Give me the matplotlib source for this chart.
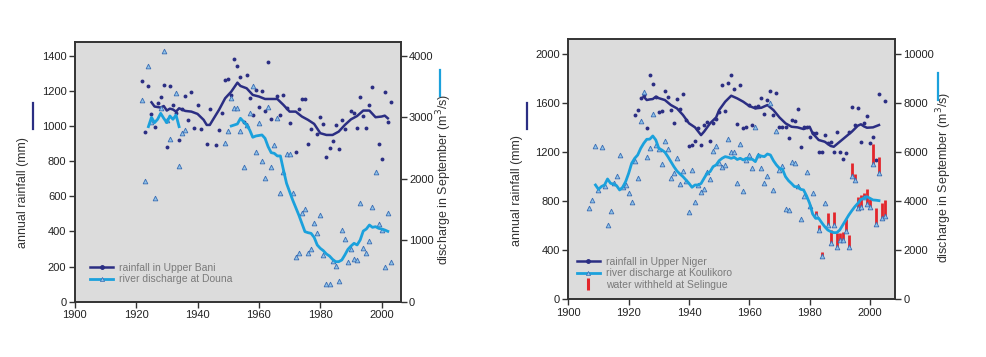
import matplotlib
matplotlib.use('Agg')
from matplotlib import pyplot as plt
from matplotlib.lines import Line2D
import numpy as np

plt.rcParams['font.family'] = ['Liberation Sans', 'DejaVu Sans']

NAVY = '#2b2e83'
CYAN = '#1ba1dc'
TRI_FACE = '#8ec3ea'
TRI_EDGE = '#3b6db3'
RED = '#e3262b'
BG = '#dcdcdc'

# ---------------- Upper Bani / Douna ----------------
bani_rain_years = [1922, 1923, 1924, 1925, 1926, 1927, 1928, 1929, 1930, 1931, 1932, 1933, 1934, 1935,
                   1936, 1937, 1938, 1939, 1940, 1941, 1943, 1944, 1946, 1947, 1948, 1949, 1950, 1951,
                   1952, 1953, 1954, 1955, 1956, 1957, 1958, 1959, 1960, 1961, 1962, 1963, 1964, 1966,
                   1967, 1968, 1969, 1970, 1972, 1973, 1974, 1975, 1976, 1977, 1979, 1980, 1981, 1982,
                   1983, 1984, 1985, 1986, 1987, 1988, 1990, 1991, 1992, 1993, 1994, 1995, 1996, 1997,
                   1999, 2000, 2001, 2002, 2003]
bani_rain = [1260, 969, 1229, 1068, 998, 1131, 1169, 1235, 880, 1231, 1121, 1074, 922, 1100,
             1174, 1036, 1197, 992, 1121, 986, 900, 1100, 893, 979, 1074, 1264, 1269, 1178,
             1383, 1345, 1283, 1026, 1292, 1159, 1064, 1207, 1108, 1201, 1089, 1368, 1041, 1172,
             1064, 1178, 1102, 1020, 855, 1098, 1155, 1153, 899, 982, 956, 1051, 1013, 827,
             874, 918, 1007, 870, 1036, 982, 1089, 1077, 992, 1169, 1060, 988, 1121, 1226,
             897, 815, 1193, 1024, 1136]

bani_ma_years = [1925, 1926, 1928, 1929, 1930, 1931, 1932, 1933, 1934, 1936, 1938, 1940, 1942, 1943,
                 1944, 1945, 1947, 1949, 1951, 1953, 1954, 1956, 1958, 1960, 1962, 1966, 1968, 1970,
                 1972, 1974, 1976, 1978, 1980, 1982, 1984, 1986, 1988, 1990, 1992, 1994, 1996, 1998,
                 2000, 2001, 2002]
bani_ma = [1136, 1112, 1106, 1115, 1089, 1100, 1095, 1083, 1102, 1087, 1083, 1070, 1036, 1007,
           1007, 1036, 1093, 1159, 1197, 1248, 1229, 1216, 1178, 1169, 1155, 1155, 1121, 1083,
           1083, 1055, 1036, 1013, 960, 950, 950, 969, 1007, 1039, 1058, 1089, 1089, 1051,
           1055, 1060, 1045]

douna_q_years = [1922, 1923, 1924, 1925, 1926, 1928, 1929, 1930, 1931, 1933, 1934, 1935, 1936,
                 1949, 1950, 1951, 1952, 1953, 1954, 1955, 1956, 1957, 1958, 1959, 1960, 1961, 1962,
                 1963, 1964, 1965, 1966, 1967, 1968, 1969, 1970, 1971, 1972, 1973, 1974, 1975, 1976,
                 1977, 1978, 1979, 1980, 1981, 1982, 1983, 1984, 1985, 1986, 1987, 1988, 1989, 1990,
                 1991, 1992, 1993, 1994, 1995, 1996, 1997, 1998, 1999, 2000, 2001, 2002, 2003]
douna_q = [3279, 1970, 3842, 2930, 1693, 3149, 4081, 2958, 2644, 3403, 2209, 2741, 2795,
           2578, 2784, 3316, 3153, 3153, 2784, 2187, 2876, 3066, 3511, 2442, 2914, 2290, 2019,
           3164, 2187, 2551, 2985, 1775, 2117, 2404, 2404, 1775, 733, 798, 1438, 1503, 798,
           857, 1286, 1123, 1411, 755, 288, 288, 668, 581, 342, 1167, 1015, 651, 857,
           689, 678, 1612, 879, 798, 993, 1536, 2117, 1264, 1167, 570, 1449, 651]

douna_ma1_years = [1924, 1925, 1926, 1927, 1928, 1929, 1930, 1931, 1932, 1933, 1934]
douna_ma1 = [2849, 3001, 2914, 2969, 3066, 2985, 2914, 3023, 2969, 3039, 2849]
douna_ma2_years = [1951, 1953, 1954, 1955, 1956, 1957, 1958, 1959, 1961, 1962, 1963, 1964, 1965,
                   1966, 1967, 1968, 1969, 1971, 1973, 1975, 1976, 1977, 1978, 1979, 1980, 1981,
                   1982, 1983, 1984, 1985, 1986, 1987, 1988, 1989, 1990, 1991, 1992, 1993, 1994,
                   1995, 1996, 1997, 1998, 1999, 2000, 2001, 2002]
douna_ma2 = [2860, 2893, 2985, 2930, 2876, 2795, 2676, 2697, 2714, 2659, 2524, 2426, 2415,
             2372, 2372, 2144, 1927, 1655, 1411, 1140, 1123, 1112, 1047, 923, 868, 830,
             776, 743, 689, 651, 651, 678, 760, 852, 906, 950, 923, 1004, 1150,
             1183, 1248, 1210, 1221, 1194, 1183, 1167, 1145]

# ---------------- Upper Niger / Koulikoro ----------------
niger_rain_years = list(range(1922, 2004)) + [2005]
niger_rain = [1500, 1543, 1644, 1666, 1394, 1829, 1755, 1652, 1530, 1538, 1698, 1647, 1543, 1440,
              1633, 1551, 1671, 1462, 1250, 1258, 1291, 1394, 1258, 1421, 1443, 1291, 1435, 1467,
              1530, 1747, 1538, 1761, 1829, 1714, 1426, 1747, 1399, 1402, 1584, 1421, 1570, 1576,
              1638, 1511, 1625, 1701, 1503, 1679, 1407, 1407, 1407, 1312, 1462, 1456, 1551, 1244,
              1407, 1407, 1326, 1359, 1353, 1201, 1201, 1337, 1272, 1282, 1201, 1364, 1201, 1141,
              1196, 1367, 1570, 1418, 1557, 1285, 1435, 1494, 1272, 1326, 1136, 1674, 1620]

niger_ma_years = [1925, 1926, 1927, 1928, 1929, 1930, 1932, 1934, 1936, 1938, 1940, 1942, 1944, 1945,
                  1947, 1949, 1950, 1952, 1954, 1956, 1958, 1960, 1962, 1964, 1966, 1968, 1970, 1972,
                  1974, 1976, 1978, 1980, 1981, 1983, 1985, 1987, 1988, 1990, 1992, 1994, 1996, 1997,
                  1998, 1999, 2001, 2003]
niger_ma = [1652, 1625, 1630, 1633, 1652, 1640, 1625, 1584, 1557, 1503, 1435, 1402, 1339, 1367,
            1435, 1483, 1543, 1611, 1660, 1638, 1611, 1576, 1557, 1562, 1584, 1543, 1483, 1435,
            1407, 1402, 1388, 1407, 1353, 1299, 1285, 1250, 1244, 1285, 1326, 1367, 1416, 1427,
            1410, 1399, 1402, 1421]

koul_q_years = list(range(1907, 2006))
koul_q = [3710, 4048, 6251, 4458, 6197, 4634, 3044, 3601, 4754, 5027, 5884, 4593, 4648, 4322,
          3955, 5653, 4960, 7271, 8439, 5817, 6156, 7556, 6292, 6129, 5517, 6469, 6116, 4960,
          5164, 5748, 4702, 5246, 4811, 3547, 5273, 3955, 4661, 4376, 4512, 5205, 4920, 6061,
          6251, 5545, 5382, 5477, 6537, 6020, 6020, 4729, 6333, 4428, 5681, 5871, 5365, 7012,
          5898, 5365, 4754, 5040, 7991, 4456, 6880, 5272, 5435, 3680, 3640, 5610, 5545, 4600,
          3262, 4211, 5202, 3816, 4322, 3437, 2825, 1765, 3914, 3029, 2308, 3029, 2120, 2418,
          2418, 2797, 2145, 5027, 4864, 3710, 3775, 4183, 3886, 3775, 5516, 3070, 5137, 3302,
          3396]

koul_ma_years = list(range(1909, 2004))
koul_ma = [4661, 4485, 4600, 4661, 4906, 4729, 4700, 4634, 4458, 4566, 4797, 5137, 5545, 5748,
           5884, 6156, 6360, 6523, 6530, 6659, 6496, 6156, 6088, 6000, 5817, 5613, 5409, 5232,
           5110, 5001, 4865, 4729, 4566, 4661, 4661, 4720, 4933, 5137, 5205, 5409, 5477, 5653,
           5750, 5817, 5790, 5748, 5790, 5700, 5748, 5681, 5750, 5710, 5710, 5613, 5884, 5840,
           5817, 5925, 5884, 5653, 5477, 5341, 5300, 5001, 4838, 4720, 4593, 4593, 4485, 4458,
           4213, 3914, 3479, 3302, 3302, 3126, 2963, 2827, 2759, 2718, 2718, 2827, 3031, 3234,
           3438, 3615, 3778, 3914, 4077, 4118, 4186, 4118, 4050, 4040, 4023]

# water withheld at Selingue (added on top of the observed discharge)
sel_years = [1982, 1983, 1984, 1986, 1987, 1988, 1989, 1990, 1991, 1992, 1993, 1994, 1995, 1996,
             1997, 1998, 1999, 2000, 2001, 2002, 2003, 2004, 2005]
sel_withheld = [150, 204, 150, 503, 516, 544, 571, 272, 340, 462, 476, 516, 245, 476,
                476, 136, 598, 299, 802, 639, 652, 639, 652]

x_ticks = [1900, 1920, 1940, 1960, 1980, 2000]


def style_pair(ax, ax2, xmax, ymax1, ymax2, yt1, yt2):
    ax.set_facecolor(BG)
    ax.set_xlim(1900, xmax)
    ax.set_ylim(0, ymax1)
    ax2.set_ylim(0, ymax2)
    ax.set_xticks(x_ticks)
    ax.set_yticks(yt1)
    ax2.set_yticks(yt2)
    for a in (ax, ax2):
        for s in a.spines.values():
            s.set_color('#333333')
            s.set_linewidth(1.2)
        a.tick_params(direction='out', length=4, width=1, color='#333333',
                      labelsize=8, labelcolor='#222222', pad=2)


def add_label_bar(x, y0, y1, color):
    fig.add_artist(Line2D([x / 986.0] * 2, [1 - y0 / 357.0, 1 - y1 / 357.0],
                          color=color, lw=1.6, transform=fig.transFigure))


fig = plt.figure(figsize=(9.86, 3.57), dpi=100)

# ---- left panel
ax = fig.add_axes([0.0758, 0.155, 0.3306, 0.728])
ax2 = ax.twinx()
style_pair(ax, ax2, 2006.2, 1481, 4231, range(0, 1401, 200), range(0, 4001, 1000))

ax2.plot(douna_q_years, douna_q, '^', ms=3.4, mfc=TRI_FACE, mec=TRI_EDGE, mew=0.6, zorder=2)
ax2.plot(douna_ma1_years, douna_ma1, color=CYAN, lw=2, zorder=3)
ax2.plot(douna_ma2_years, douna_ma2, color=CYAN, lw=2, zorder=3)
ax.plot(bani_rain_years, bani_rain, 'o', ms=2.8, mew=0, color=NAVY, zorder=2)
ax.plot(bani_ma_years, bani_ma, color=NAVY, lw=1.8, zorder=3)

ax.set_ylabel('annual rainfall (mm)', fontsize=9, color='#333333')
ax.yaxis.set_label_coords(-0.140, 0.42)
ax2.set_ylabel('discharge in September (m$^3$/s)', fontsize=9, color='#333333')
ax2.yaxis.set_label_coords(1.102, 0.47)
add_label_bar(33, 103, 129, NAVY)
add_label_bar(440, 70, 96, CYAN)

h = [Line2D([], [], color=NAVY, lw=1.8, marker='o', ms=2.5),
     Line2D([], [], color=CYAN, lw=2, marker='^', ms=3, mfc=TRI_FACE, mec=TRI_EDGE, mew=0.5)]
ax2.legend(h, ['rainfall in Upper Bani', 'river discharge at Douna'], loc='upper left',
           bbox_to_anchor=(0.047, 0.15), frameon=False, fontsize=7.5, labelcolor='#7a7a7a',
           handlelength=2.2, handletextpad=0.6, labelspacing=0.15, borderpad=0, borderaxespad=0,
           numpoints=1)

# ---- right panel
bx = fig.add_axes([0.5764, 0.1616, 0.3313, 0.7283])
bx2 = bx.twinx()
style_pair(bx, bx2, 2008.3, 2120, 10600, range(0, 2001, 400), range(0, 10001, 2000))

sel_q = [koul_q[koul_q_years.index(y)] for y in sel_years]
bx2.vlines(sel_years, sel_q, np.array(sel_q) + np.array(sel_withheld), color=RED, lw=2, zorder=1)
bx2.plot(koul_q_years, koul_q, '^', ms=3.4, mfc=TRI_FACE, mec=TRI_EDGE, mew=0.6, zorder=2)
bx2.plot(koul_ma_years, koul_ma, color=CYAN, lw=2, zorder=3)
bx.plot(niger_rain_years, niger_rain, 'o', ms=2.8, mew=0, color=NAVY, zorder=2)
bx.plot(niger_ma_years, niger_ma, color=NAVY, lw=1.8, zorder=3)

bx.set_ylabel('annual rainfall (mm)', fontsize=9, color='#333333')
bx.yaxis.set_label_coords(-0.139, 0.42)
bx2.set_ylabel('discharge in September (m$^3$/s)', fontsize=9, color='#333333')
bx2.yaxis.set_label_coords(1.122, 0.47)
add_label_bar(527, 103, 129, NAVY)
add_label_bar(938, 73, 100, CYAN)

h = [Line2D([], [], color=NAVY, lw=1.8, marker='o', ms=2.5),
     Line2D([], [], color=CYAN, lw=2, marker='^', ms=3, mfc=TRI_FACE, mec=TRI_EDGE, mew=0.5),
     Line2D([], [], color=RED, lw=0, marker='|', ms=8, mew=2.2)]
bx2.legend(h, ['rainfall in Upper Niger', 'river discharge at Koulikoro', 'water withheld at Selingue'],
           loc='upper left', bbox_to_anchor=(0.026, 0.163), frameon=False, fontsize=7.5,
           labelcolor='#7a7a7a', handlelength=2.2, handletextpad=0.6, labelspacing=0.15,
           borderpad=0, borderaxespad=0, numpoints=1)

fig.savefig('out.png', dpi=100)
